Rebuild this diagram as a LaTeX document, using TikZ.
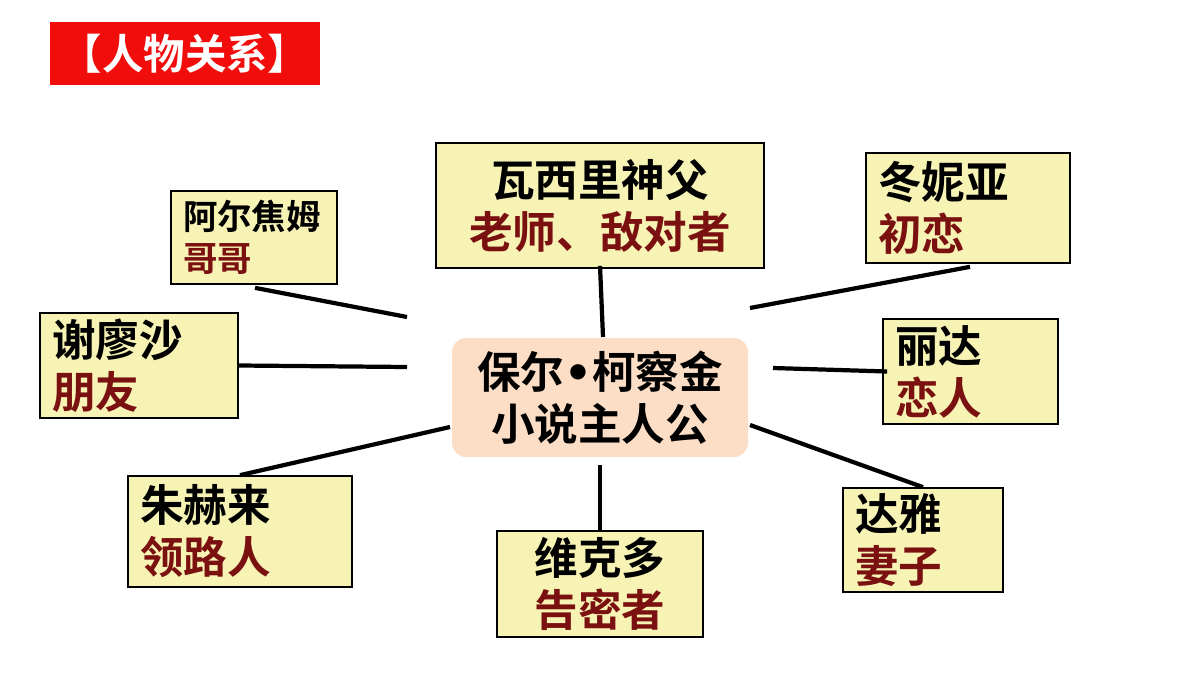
\documentclass[tikz,border=0pt]{standalone}
\usepackage{fontspec}
\setmainfont{Noto Sans CJK SC}[BoldFont={Noto Sans CJK SC Bold}]
\newfontfamily\dotfont{DejaVu Sans}
\definecolor{boxfill}{HTML}{F7F3B5}
\definecolor{rolered}{HTML}{7A1010}
\definecolor{hubfill}{HTML}{FCDEC6}
\definecolor{titlered}{HTML}{F20D0D}
\newcommand{\role}[2]{\textcolor{black}{#1}\\\textcolor{rolered}{#2}}

\begin{document}
\begin{tikzpicture}[x=0.025cm,y=-0.025cm,
  every node/.style={font=\bfseries\fontsize{31}{37}\selectfont},
  person/.style={draw=black,line width=1.2pt,fill=boxfill,inner xsep=0.3cm,inner ysep=0pt},
  link/.style={line width=3pt,black}]
\useasboundingbox (0,0) rectangle (1200,675);
% title
\node[fill=titlered,text=white,minimum width=270*0.025cm,minimum height=63*0.025cm,
  font=\bfseries\fontsize{29.5}{32}\selectfont] (title) at (185,53.5) {【人物关系】};
% hub
\node[draw=none,fill=hubfill,rounded corners=0.35cm,minimum width=296*0.025cm,
  minimum height=119*0.025cm,align=center] (hub) at (600,397.5) {保尔{\dotfont\bfseries •}柯察金\\小说主人公};
% people
\node[person,minimum width=328*0.025cm,minimum height=125*0.025cm,align=center] (wasili) at (600,205.5) {\role{瓦西里神父}{老师、敌对者}};
\node[person,minimum width=204*0.025cm,minimum height=110*0.025cm,text width=180*0.025cm,align=left] (tonia) at (968,208) {\role{冬妮亚}{初恋}};
\node[person,minimum width=164*0.025cm,minimum height=93*0.025cm,text width=142*0.025cm,align=left,
  font=\bfseries\fontsize{24.5}{30}\selectfont] (artem) at (254,237.5) {\role{阿尔焦姆}{哥哥}};
\node[person,minimum width=198*0.025cm,minimum height=105*0.025cm,text width=174*0.025cm,align=left] (sergey) at (139,365.5) {\role{谢廖沙}{朋友}};
\node[person,minimum width=175*0.025cm,minimum height=105*0.025cm,text width=151*0.025cm,align=left] (rita) at (970.5,371.5) {\role{丽达}{恋人}};
\node[person,minimum width=224*0.025cm,minimum height=111*0.025cm,text width=200*0.025cm,align=left] (zhukhrai) at (240,531.5) {\role{朱赫来}{领路人}};
\node[person,minimum width=206*0.025cm,minimum height=106*0.025cm,align=center] (victor) at (600,584) {\role{维克多}{告密者}};
\node[person,minimum width=160*0.025cm,minimum height=104*0.025cm,text width=136*0.025cm,align=left] (taya) at (923,540) {\role{达雅}{妻子}};
% free ends near the hub
\coordinate (hA) at (407,317);
\coordinate (hS) at (407,367);
\coordinate (hZ) at (450,427);
\coordinate (hW) at (603,337);
\coordinate (hT) at (750,308);
\coordinate (hR) at (773,368);
\coordinate (hY) at (750,425);
\coordinate (hV) at (600,465);
% links
\draw[link] (artem.south) ++(1,3) -- (hA);
\draw[link] (sergey.east) -- (hS);
\draw[link] (zhukhrai.north) -- (hZ);
\draw[link] (wasili.south) ++(0,-3) -- (hW);
\draw[link] (tonia.south) ++(2,3) -- (hT);
\draw[link] (rita.west) ++(5,0) -- (hR);
\draw[link] (taya.north) -- (hY);
\draw[link] (victor.north) -- (hV);
\end{tikzpicture}
\end{document}
